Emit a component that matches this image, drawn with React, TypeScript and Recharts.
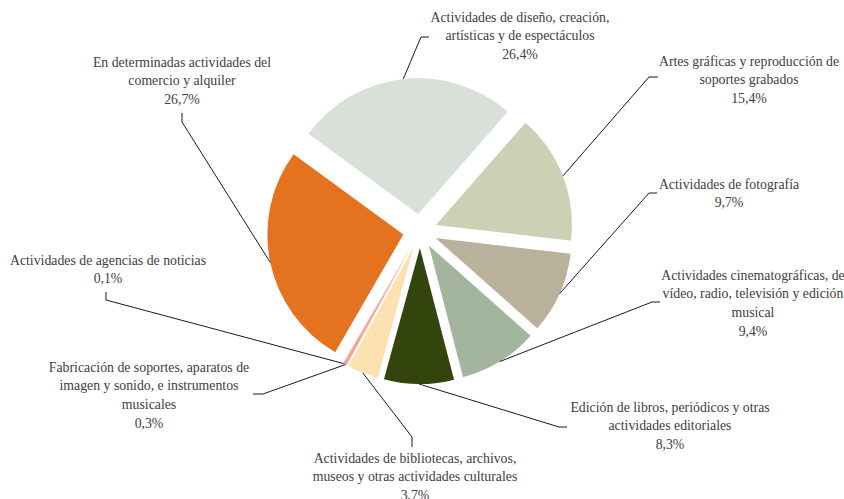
import { PieChart, Pie, Cell } from 'recharts'

const names = [
  'Actividades de diseño, creación, artísticas y de espectáculos',
  'Artes gráficas y reproducción de soportes grabados',
  'Actividades de fotografía',
  'Actividades cinematográficas, de vídeo, radio, televisión y edición musical',
  'Edición de libros, periódicos y otras actividades editoriales',
  'Actividades de bibliotecas, archivos, museos y otras actividades culturales',
  'Fabricación de soportes, aparatos de imagen y sonido, e instrumentos musicales',
  'Actividades de agencias de noticias',
  'En determinadas actividades del comercio y alquiler',
]
const values = [26.4, 15.4, 9.7, 9.4, 8.3, 3.7, 0.3, 0.1, 26.7]
const labelLines = [
  ['Actividades de diseño, creación,', 'artísticas y de espectáculos', '26,4%'],
  ['Artes gráficas y reproducción de', 'soportes grabados', '15,4%'],
  ['Actividades de fotografía', '9,7%'],
  ['Actividades cinematográficas, de', 'vídeo, radio, televisión y edición', 'musical', '9,4%'],
  ['Edición de libros, periódicos y otras', 'actividades editoriales', '8,3%'],
  ['Actividades de bibliotecas, archivos,', 'museos y otras actividades culturales', '3,7%'],
  ['Fabricación de soportes, aparatos de', 'imagen y sonido, e instrumentos', 'musicales', '0,3%'],
  ['Actividades de agencias de noticias', '0,1%'],
  ['En determinadas actividades del', 'comercio y alquiler', '26,7%'],
]
const colors = ['#d9e0da', '#cdd0b4', '#b9b19b', '#a3b69d', '#33440c', '#fde2b0', '#f4a08c', '#e8665a', '#e5721f']

const data = names.map((name, i) => ({ name, value: values[i] }))

// label placement (manual, like the original)
const labelLayout = [
  { tx: 520, ty: 17, elbow: [421, 37], end: [429, 37] },
  { tx: 749, ty: 61, elbow: [649, 77], end: [658, 77] },
  { tx: 729, ty: 184, elbow: [649, 193], end: [657, 193] },
  { tx: 753, ty: 275, elbow: [652, 302], end: [660, 302] },
  { tx: 670, ty: 407, elbow: [559, 427], end: [567, 427] },
  { tx: 415, ty: 458, elbow: [412, 437], end: [412, 447] },
  { tx: 149, ty: 367, elbow: [263, 394], end: [253, 394] },
  { tx: 108, ty: 260, elbow: [106, 300], end: [106, 292] },
  { tx: 182, ty: 62, elbow: [182, 122], end: [182, 113] },
]

const W = 844
const H = 499
const CX = 420
const CY = 231
const R = 136
const EXPLODE = 17
const START = 143.8
const RAD = Math.PI / 180
const LINE_H = 18.8

const total = values.reduce((a, b) => a + b, 0)

function midAngle(i: number) {
  const before = values.slice(0, i).reduce((a, b) => a + b, 0)
  return START - (360 * (before + values[i] / 2)) / total
}

function renderLabel(i: number) {
  return (p: any) => {
    if (p.index !== i) return null
    const a = -p.midAngle * RAD
    const x0 = p.cx + p.outerRadius * Math.cos(a)
    const y0 = p.cy + p.outerRadius * Math.sin(a)
    const lay = labelLayout[i]
    return (
      <g key={`lbl-${i}`}>
        <path
          d={`M${x0},${y0}L${lay.elbow[0]},${lay.elbow[1]}L${lay.end[0]},${lay.end[1]}`}
          stroke="#1a1a1a" strokeWidth={1} fill="none"
        />
        {labelLines[i].map((t, k) => (
          <text
            key={k}
            x={lay.tx}
            y={lay.ty + k * LINE_H}
            textAnchor="middle"
            dominantBaseline="central"
            fontFamily="'Liberation Serif', serif"
            fontSize={13.8}
            fill="#404040"
          >
            {t}
          </text>
        ))}
      </g>
    )
  }
}

export default function App() {
  return (
    <div style={{ width: W, height: H, background: '#fff' }}>
      <style>{'body{margin:0}'}</style>
      <PieChart width={W} height={H} margin={{ top: 0, right: 0, bottom: 0, left: 0 }}>
        {values.map((_, i) => {
          const m = midAngle(i) * RAD
          return (
            <Pie
              key={i}
              data={data}
              dataKey="value"
              nameKey="name"
              cx={CX + EXPLODE * Math.cos(m)}
              cy={CY - EXPLODE * Math.sin(m)}
              outerRadius={R}
              innerRadius={0}
              startAngle={START}
              endAngle={START - 360}
              stroke="none"
              label={renderLabel(i)}
              labelLine={false}
              isAnimationActive={false}
            >
              {data.map((_, j) => (
                <Cell key={j} fill={j === i ? colors[j] : 'none'} stroke="none" />
              ))}
            </Pie>
          )
        })}
      </PieChart>
    </div>
  )
}
